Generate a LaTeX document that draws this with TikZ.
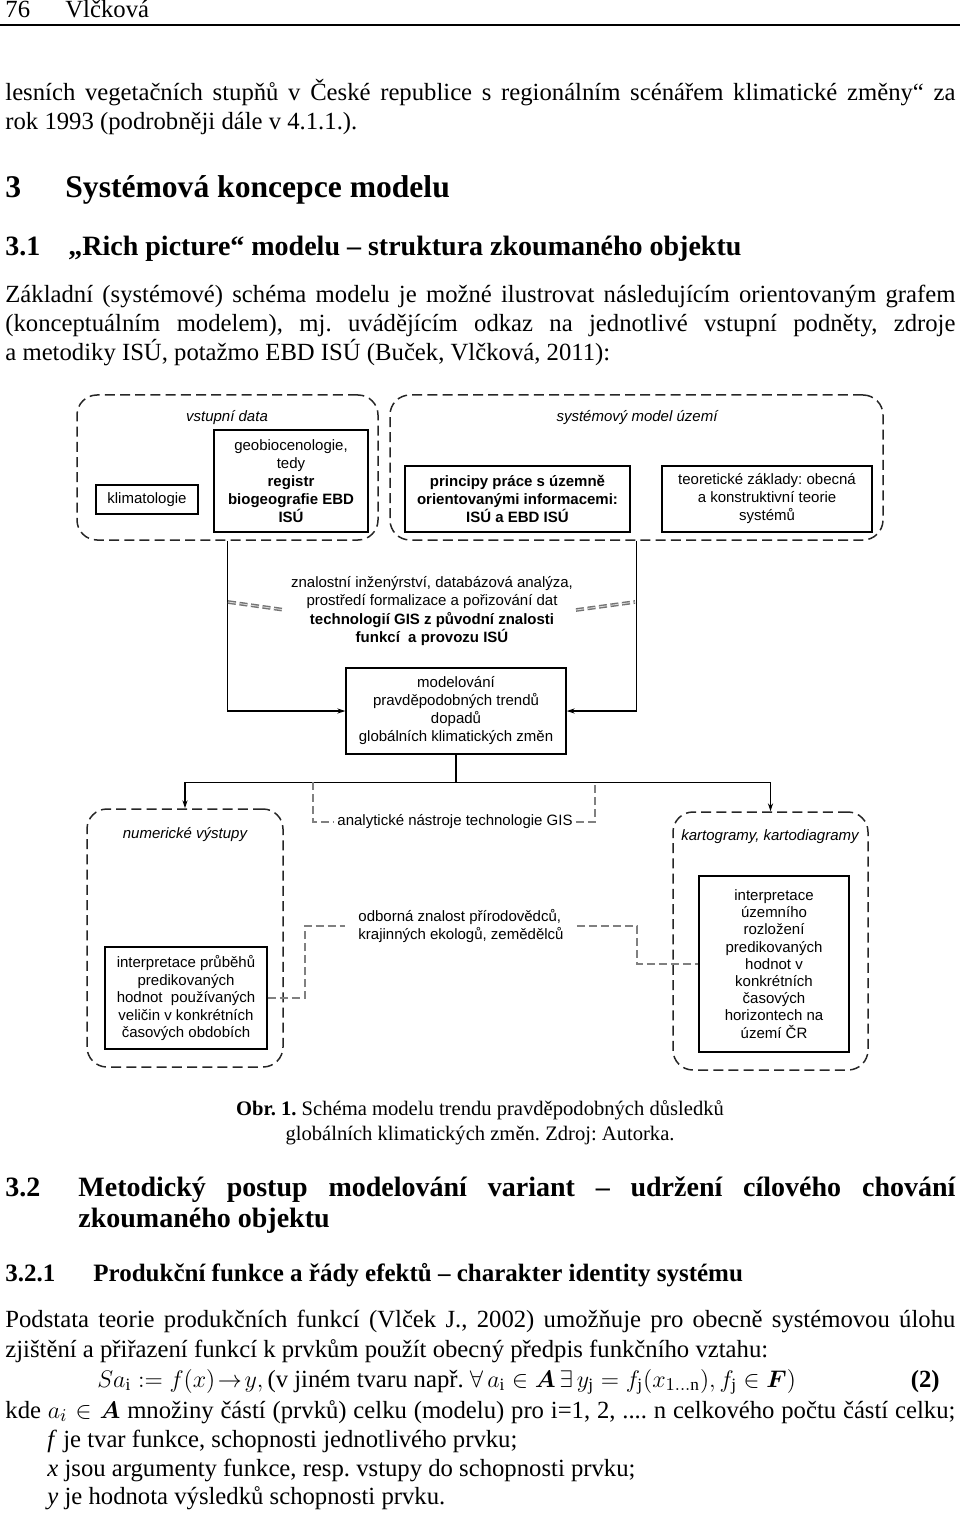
\documentclass[tikz,border=0pt]{standalone}
\usepackage{amsmath,bm}
\usepackage{fontspec}
\setmainfont{Liberation Serif}
\newfontfamily\arial{Liberation Sans}
\usetikzlibrary{arrows.meta,calc}
\begin{document}
\frenchspacing
\begin{tikzpicture}[x=0.5pt,y=-0.5pt,
  body/.style={anchor=base west, inner sep=0, font=\fontsize{12.35}{14}\selectfont},
  hbig/.style={anchor=base west, inner sep=0, font=\bfseries\fontsize{15.8}{18}\selectfont},
  hmid/.style={anchor=base west, inner sep=0, font=\bfseries\fontsize{14}{16}\selectfont},
  hsml/.style={anchor=base west, inner sep=0, font=\bfseries\fontsize{12.5}{14}\selectfont},
  capt/.style={anchor=base, inner sep=0, font=\fontsize{10.3}{12}\selectfont},
  dbox/.style={draw=black!85, line width=0.75pt, dash pattern=on 5pt off 2.6pt, rounded corners=10pt, inner sep=0},
  sbox/.style={draw, line width=0.7pt, align=center, inner sep=1pt, font=\arial\fontsize{7.5}{8.75}\selectfont},
  dtxt/.style={align=center, inner sep=0, font=\arial\fontsize{7.5}{9.1}\selectfont},
  lbl/.style={inner sep=0, font=\arial\itshape\fontsize{7.5}{9}\selectfont},
  conn/.style={line width=0.6pt},
  arr/.style={conn, -{Stealth[length=4pt,width=2.6pt]}},
  gdash/.style={draw=black!50, line width=1.3pt, dash pattern=on 4pt off 2pt},
  gdouble/.style={draw=black!55, line width=0.7pt, double=black!15, double distance=0.45pt, dash pattern=on 4pt off 1.8pt},
]
\useasboundingbox (0,0) rectangle (960,1513);

% ---------- page head ----------
\node[body] (pgno) at (5,18) {76};
\node[body] (auth) at (65,18) {Vlčková};
\coordinate (ruleL) at (0,25);
\coordinate (ruleR) at (960,25);
\draw[line width=0.6pt] (ruleL) -- (ruleR);

% ---------- text above the figure ----------
\node[body] (t1) at (5,101) {\makebox[475pt][s]{lesních vegetačních stupňů v České republice s regionálním scénářem klimatické změny“ za}};
\node[body] (t2) at (5,130) {rok 1993 (podrobněji dále v 4.1.1.).};
\node[hbig] (h3n) at (5,198) {3};
\node[hbig] (h3) at (65,198) {Systémová koncepce modelu};
\node[hmid] (h31n) at (5,256) {3.1};
\node[hmid] (h31) at (68,256) {„Rich picture“ modelu – struktura zkoumaného objektu};
\node[body] (t3) at (5,303) {\makebox[475pt][s]{Základní (systémové) schéma modelu je možné ilustrovat následujícím orientovaným grafem}};
\node[body] (t4) at (5,332) {\makebox[475pt][s]{(konceptuálním modelem), mj. uvádějícím odkaz na jednotlivé vstupní podněty, zdroje}};
\node[body] (t5) at (5,361) {a metodiky ISÚ, potažmo EBD ISÚ (Buček, Vlčková, 2011):};

% ---------- diagram ----------
\node[dbox, minimum width=150.5pt, minimum height=72.5pt] (vstup) at (227.5,467.5) {};
\node[dbox, minimum width=246.5pt, minimum height=72.5pt] (sys) at (636.5,467.5) {};
\node[lbl] (vstupL) at (227,418) {vstupní data};
\node[lbl] (sysL) at (637,418) {systémový model území};

\node[sbox, minimum width=51pt, minimum height=14.5pt] (klim) at (147,499.5) {klimatologie};
\node[sbox, minimum width=77pt, minimum height=51pt, font=\arial\fontsize{7.5}{9}\selectfont] (geo) at (291,481) {geobiocenologie,\\tedy\\\textbf{registr}\\\textbf{biogeografie EBD}\\\textbf{ISÚ}};
\node[sbox, minimum width=112.5pt, minimum height=33pt, font=\arial\bfseries\fontsize{7.5}{9}\selectfont] (princ) at (517.5,499) {principy práce s územně\\orientovanými informacemi:\\ISÚ a EBD ISÚ};
\node[sbox, minimum width=105pt, minimum height=33pt, font=\arial\fontsize{7.5}{9}\selectfont] (teor) at (767,499) {teoretické základy: obecná\\a konstruktivní teorie\\systémů};

\node[dtxt] (znal) at (432,611) {znalostní inženýrství, databázová analýza,\\prostředí formalizace a pořizování dat\\\textbf{technologií GIS z původní znalosti}\\\textbf{funkcí\ \ a provozu ISÚ}};

\node[sbox, minimum width=110pt, minimum height=43pt, font=\arial\fontsize{7.5}{9}\selectfont] (model) at (456,711) {modelování\\pravděpodobných trendů\\dopadů\\globálních klimatických změn};

\draw[arr] (vstup.south) |- (model.west);
\draw[arr] (sys.south) |- (model.east);

% gray slanted links to the knowledge text
\coordinate (zl1) at (228,602);
\coordinate (zl2) at (285,610);
\coordinate (zr1) at (576,610);
\coordinate (zr2) at (635,602);
\draw[gdouble] (zl1) -- (zl2);
\draw[gdouble] (zr1) -- (zr2);

% lower part
\node[dbox, minimum width=98pt, minimum height=129pt] (numer) at (185,938) {};
\node[dbox, minimum width=97.5pt, minimum height=129pt] (karto) at (770.5,941) {};
\node[lbl] (numerL) at (185,835) {numerické výstupy};
\node[lbl] (kartoL) at (770,837) {kartogramy, kartodiagramy};

\draw[conn] (model.south) -- ++(0,28) coordinate (jn);
\draw[arr] (jn) -| (numer.north);
\draw[arr] (jn) -| (karto.north);

\node[sbox, minimum width=81pt, minimum height=51pt] (numbox) at (186,998) {interpretace průběhů\\predikovaných\\hodnot\ \ používaných\\veličin v konkrétních\\časových obdobích};
\node[sbox, minimum width=75pt, minimum height=88pt, font=\arial\fontsize{7.5}{8.6}\selectfont] (kartbox) at (774,964) {interpretace\\územního\\rozložení\\predikovaných\\hodnot v\\konkrétních\\časových\\horizontech na\\území ČR};

\node[dtxt, inner xsep=1.5pt] (anal) at (455,822) {analytické nástroje technologie GIS};
\coordinate (aL) at (313,782);
\coordinate (aR) at (595,782);
\draw[gdash] (aL) |- (anal.west);
\draw[gdash] (anal.east) -| (aR);

\node[dtxt, align=left, inner xsep=6.5pt] (odb) at (461,926) {odborná znalost přírodovědců,\\krajinných ekologů, zemědělců};
\coordinate (oL) at (305,998);
\coordinate (oR) at (637,964);
\draw[gdash] (numbox.east) -- (oL) |- (odb.west);
\draw[gdash] (odb.east) -| (oR) -- (kartbox.west);

% ---------- caption ----------
\node[capt] (cap1) at (480,1115) {\textbf{Obr. 1.} Schéma modelu trendu pravděpodobných důsledků};
\node[capt] (cap2) at (480,1140) {globálních klimatických změn. Zdroj: Autorka.};

% ---------- text below ----------
\node[hmid] (h32n) at (5,1196) {3.2};
\node[hmid] (h32) at (78,1196) {\makebox[438.5pt][s]{Metodický postup modelování variant – udržení cílového chování}};
\node[hmid] (h32b) at (78,1227) {zkoumaného objektu};
\node[hsml] (h321n) at (5,1281) {3.2.1};
\node[hsml] (h321) at (93,1281) {Produkční funkce a řády efektů – charakter identity systému};

\node[body] (p1) at (5,1327) {\makebox[475pt][s]{Podstata teorie produkčních funkcí (Vlček J., 2002) umožňuje pro obecně systémovou úlohu}};
\node[body] (p2) at (5,1357) {zjištění a přiřazení funkcí k prvkům použít obecný předpis funkčního vztahu:};
\node[body] (eq) at (97,1387) {$Sa_{\mathrm{i}} \mathrel{:=} f(x)\!\rightarrow\! y,$\,(v jiném tvaru např. $\forall\, a_{\mathrm{i}} \in \bm{A} \,\exists\, y_{\mathrm{j}} = f_{\mathrm{j}}(x_{1\ldots\mathrm{n}}), f_{\mathrm{j}} \in \bm{F})$};
\node[body, anchor=base east, font=\bfseries\fontsize{12.35}{14}\selectfont] (eqn) at (940,1387) {(2)};
\node[body] (p3) at (5,1418) {\makebox[475pt][s]{kde $a_i \in \bm{A}$ množiny částí (prvků) celku (modelu) pro i=1, 2, .... n celkového počtu částí celku;}};
\node[body] (p4) at (47,1447) {\textit{f} je tvar funkce, schopnosti jednotlivého prvku;};
\node[body] (p5) at (47,1476) {\textit{x} jsou argumenty funkce, resp. vstupy do schopnosti prvku;};
\node[body] (p6) at (47,1504) {\textit{y} je hodnota výsledků schopnosti prvku.};
\end{tikzpicture}
\end{document}
